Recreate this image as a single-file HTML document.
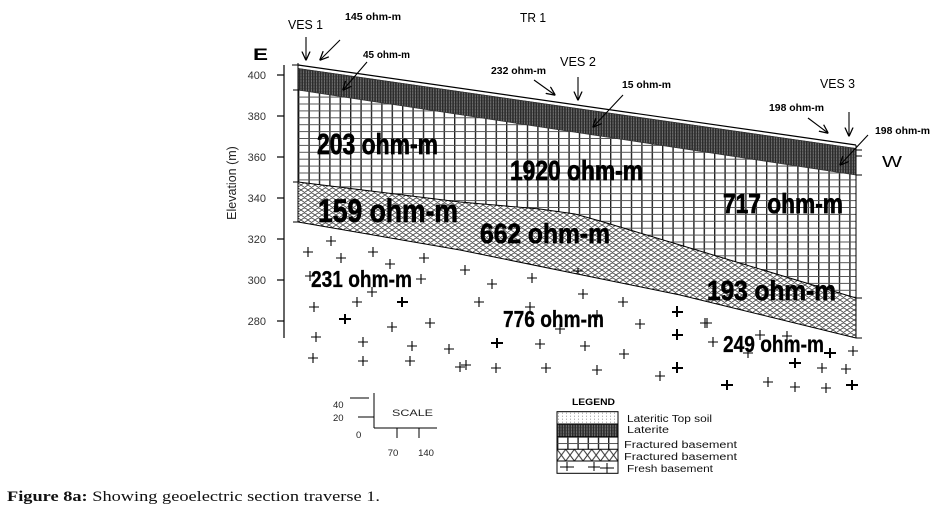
<!DOCTYPE html>
<html><head><meta charset="utf-8"><style>
html,body{margin:0;padding:0;background:#fff;}
svg{display:block;}
text{font-family:"Liberation Sans",Arial,sans-serif;}
</style></head><body>
<svg width="939" height="521" viewBox="0 0 939 521" xmlns="http://www.w3.org/2000/svg">
<defs>
<pattern id="grid" patternUnits="userSpaceOnUse" x="298" y="0" width="10.4" height="6.9">
<rect width="10.4" height="6.9" fill="#fff"/>
<line x1="0.7" y1="0" x2="0.7" y2="6.9" stroke="#222" stroke-width="1.4"/>
<line x1="0" y1="0.5" x2="10.4" y2="0.5" stroke="#555" stroke-width="1"/>
</pattern>
<pattern id="lat" patternUnits="userSpaceOnUse" x="0" y="0" width="2.6" height="3">
<rect width="2.6" height="3" fill="#2a2a2a"/>
<rect x="1.6" y="0" width="0.8" height="3" fill="#8a8a8a"/>
<rect x="1.6" y="1.5" width="0.8" height="0.6" fill="#333"/>
</pattern>
<pattern id="xh" patternUnits="userSpaceOnUse" x="0" y="0" width="7" height="5">
<rect width="7" height="5" fill="#fff"/>
<path d="M0,0 L7,5 M0,5 L7,0 M-1,4.3 L1,5.7 M6,-0.7 L8,0.7 M-1,0.7 L1,-0.7 M6,5.7 L8,4.3" stroke="#444" stroke-width="0.9" fill="none"/>
</pattern>
<pattern id="lgrid" patternUnits="userSpaceOnUse" x="557" y="436.7" width="10.2" height="6.3">
<rect width="10.2" height="6.3" fill="#fff"/>
<line x1="0.7" y1="0" x2="0.7" y2="6.3" stroke="#222" stroke-width="1.4"/>
<line x1="0" y1="0.5" x2="10.2" y2="0.5" stroke="#555" stroke-width="1"/>
</pattern>
<pattern id="lxh" patternUnits="userSpaceOnUse" x="557" y="449.3" width="8.7" height="11.7">
<rect width="8.7" height="11.7" fill="#fff"/>
<path d="M0,0 L8.7,11.7 M0,11.7 L8.7,0" stroke="#333" stroke-width="1" fill="none"/>
</pattern>
<pattern id="dots" patternUnits="userSpaceOnUse" x="557" y="411.7" width="4" height="3">
<rect width="4" height="3" fill="#fff"/>
<rect x="1" y="1" width="1" height="1" fill="#999"/>
</pattern>
<marker id="ah" viewBox="0 0 10 10" refX="9.5" refY="5" markerWidth="9" markerHeight="9" markerUnits="userSpaceOnUse" orient="auto">
<path d="M0,0.5 L10,5 L0,9.5" fill="none" stroke="#000" stroke-width="1.4"/>
</marker>
</defs>

<!-- Axis -->
<line x1="284" y1="65" x2="284" y2="338" stroke="#000" stroke-width="1.2"/>
<g stroke="#000" stroke-width="1.2">
<line x1="277" y1="75" x2="284" y2="75"/>
<line x1="277" y1="116" x2="284" y2="116"/>
<line x1="277" y1="157" x2="284" y2="157"/>
<line x1="277" y1="198" x2="284" y2="198"/>
<line x1="277" y1="239" x2="284" y2="239"/>
<line x1="277" y1="280" x2="284" y2="280"/>
<line x1="277" y1="321" x2="284" y2="321"/>
</g>
<g font-size="11" fill="#333" text-anchor="end">
<text x="266" y="79">400</text>
<text x="266" y="120">380</text>
<text x="266" y="161">360</text>
<text x="266" y="202">340</text>
<text x="266" y="243">320</text>
<text x="266" y="284">300</text>
<text x="266" y="325">280</text>
</g>
<text x="0" y="0" font-size="12.5" fill="#222" text-anchor="middle" transform="translate(236,183) rotate(-90)">Elevation (m)</text>
<text x="253" y="60" font-size="17" font-weight="bold" textLength="15" lengthAdjust="spacingAndGlyphs">E</text>

<!-- Layers -->
<polygon points="298,90 856,175 856,298 680,245 600,221 575,214 540,209 460,202 298,182" fill="url(#grid)"/>
<polygon points="298,182 460,202 540,209 575,214 600,221 680,245 856,298 856,338 680,295 460,250 298,222" fill="url(#xh)"/>
<polygon points="298,68 856,148 856,175 298,90" fill="url(#lat)"/>
<polygon points="298,65 856,145 856,148 298,68" fill="#fff"/>
<g fill="none" stroke="#000" stroke-width="1">
<line x1="298" y1="65" x2="856" y2="145" stroke-width="1.2"/>
<line x1="298" y1="68.5" x2="856" y2="148.5" stroke="#333" stroke-width="0.8"/>
<line x1="298" y1="90" x2="856" y2="175" stroke="#333" stroke-width="0.8"/>
<polyline points="298,182 460,202 540,209 575,214 600,221 680,245 856,298"/>
<polyline points="298,222 460,250 680,295 856,338"/>
<line x1="298" y1="63" x2="298" y2="222"/>
<line x1="856" y1="145" x2="856" y2="338"/>
<line x1="292" y1="65" x2="300" y2="65"/>
<line x1="293" y1="90" x2="299" y2="90"/>
<line x1="293" y1="182" x2="299" y2="182"/>
<line x1="293" y1="222" x2="300" y2="222"/>
<line x1="856" y1="150" x2="862" y2="150"/>
<line x1="856" y1="156" x2="862" y2="156"/>
<line x1="856" y1="175" x2="862" y2="175"/>
<line x1="856" y1="298" x2="862" y2="298"/>
<line x1="856" y1="338" x2="862" y2="338"/>
</g>

<!-- Crosses -->
<path fill="none" stroke="#000" stroke-width="1.1" d="
M303,252h10M308,247v10 M326,241h10M331,236v10 M336,258h10M341,253v10 M368,252h10M373,247v10
M385,264h10M390,259v10 M419,258h10M424,253v10 M305,276h10M310,271v10 M416,279h10M421,274v10
M367,292h10M372,287v10 M352,302h10M357,297v10 M309,307h10M314,302v10 M387,327h10M392,322v10
M425,323h10M430,318v10 M311,337h10M316,332v10 M358,342h10M363,337v10 M407,346h10M412,341v10
M444,349h10M449,344v10 M308,358h10M313,353v10 M358,361h10M363,356v10 M405,361h10M410,356v10
M455,367h10M460,362v10
M460,270h10M465,265v10 M487,284h10M492,279v10 M527,278h10M532,273v10 M474,302h10M479,297v10
M525,307h10M530,302v10 M578,294h10M583,289v10 M618,302h10M623,297v10 M555,329h10M560,324v10
M592,315h10M597,310v10 M635,324h10M640,319v10 M700,323h10M705,318v10 M535,344h10M540,339v10
M580,346h10M585,341v10 M619,354h10M624,349v10 M461,365h10M466,360v10 M491,368h10M496,363v10
M541,368h10M546,363v10 M592,370h10M597,365v10 M655,376h10M660,371v10 M573,271h10M578,268v5
M702,323h10M707,318v10 M708,342h10M713,337v10 M755,335h10M760,330v10 M743,353h10M748,348v10
M782,336h10M787,331v10 M848,351h10M853,346v10 M817,368h10M822,363v10 M841,369h10M846,364v10
M763,382h10M768,377v10 M790,387h10M795,382v10 M821,388h10M826,383v10
"/>
<path fill="none" stroke="#000" stroke-width="2" d="
M397,302h11M402,297v10 M339,319h12M345,314v10
M672,312h11M677,306v11 M672,335h11M677,329v11 M491,343h12M497,338v10 M672,368h11M677,362v11
M824,353h12M830,348v10 M789,363h12M795,358v10 M721,385h12M727,380v10 M846,385h12M852,380v10
"/>

<!-- Big labels -->
<g font-weight="bold" fill="#000" stroke="#000" stroke-width="0.7">
<text x="317" y="154" font-size="29" textLength="121" lengthAdjust="spacingAndGlyphs">203 ohm-m</text>
<text x="510" y="180" font-size="28" textLength="133" lengthAdjust="spacingAndGlyphs">1920 ohm-m</text>
<text x="723" y="213" font-size="28" textLength="120" lengthAdjust="spacingAndGlyphs">717 ohm-m</text>
<text x="318" y="222" font-size="32" textLength="140" lengthAdjust="spacingAndGlyphs">159 ohm-m</text>
<text x="480" y="243" font-size="28" textLength="130" lengthAdjust="spacingAndGlyphs">662 ohm-m</text>
<text x="707" y="300" font-size="28" textLength="129" lengthAdjust="spacingAndGlyphs">193 ohm-m</text>
<text x="311" y="287" font-size="23" stroke-width="0.3" textLength="101" lengthAdjust="spacingAndGlyphs">231 ohm-m</text>
<text x="503" y="327" font-size="23" stroke-width="0.3" textLength="101" lengthAdjust="spacingAndGlyphs">776 ohm-m</text>
<text x="723" y="352" font-size="23" stroke-width="0.3" textLength="101" lengthAdjust="spacingAndGlyphs">249 ohm-m</text>
</g>

<!-- Small labels -->
<g font-size="10.5" font-weight="bold" fill="#000">
<text x="345" y="20" textLength="56" lengthAdjust="spacingAndGlyphs">145 ohm-m</text>
<text x="363" y="58" textLength="47" lengthAdjust="spacingAndGlyphs">45 ohm-m</text>
<text x="491" y="74" textLength="55" lengthAdjust="spacingAndGlyphs">232 ohm-m</text>
<text x="622" y="88" textLength="49" lengthAdjust="spacingAndGlyphs">15 ohm-m</text>
<text x="769" y="111" textLength="55" lengthAdjust="spacingAndGlyphs">198 ohm-m</text>
<text x="875" y="134" textLength="55" lengthAdjust="spacingAndGlyphs">198 ohm-m</text>
</g>
<g font-size="13" fill="#000">
<text x="288" y="29" textLength="35" lengthAdjust="spacingAndGlyphs">VES 1</text>
<text x="520" y="22" textLength="26" lengthAdjust="spacingAndGlyphs">TR 1</text>
<text x="560" y="66" textLength="36" lengthAdjust="spacingAndGlyphs">VES 2</text>
<text x="820" y="88" textLength="35" lengthAdjust="spacingAndGlyphs">VES 3</text>
<text x="882" y="167" font-size="16" textLength="20" lengthAdjust="spacingAndGlyphs">W</text>
</g>

<!-- Arrows -->
<g stroke="#000" stroke-width="1.1" fill="none" marker-end="url(#ah)">
<line x1="306" y1="37" x2="306" y2="60"/>
<line x1="340" y1="40" x2="320" y2="60"/>
<line x1="367" y1="62" x2="343" y2="90"/>
<line x1="534" y1="80" x2="555" y2="95"/>
<line x1="578" y1="77" x2="578" y2="100"/>
<line x1="623" y1="95" x2="593" y2="127"/>
<line x1="808" y1="118" x2="828" y2="133"/>
<line x1="849" y1="112" x2="849" y2="136"/>
<line x1="868" y1="135" x2="840" y2="165"/>
</g>

<!-- Scale -->
<g stroke="#000" stroke-width="1" fill="none">
<line x1="374" y1="393" x2="374" y2="428"/>
<line x1="374" y1="428" x2="437" y2="428"/>
<line x1="397" y1="428" x2="397" y2="438"/>
<line x1="419" y1="428" x2="419" y2="438"/>
<line x1="350" y1="398" x2="369" y2="398"/>
<line x1="358" y1="417" x2="374" y2="417"/>
</g>
<g font-size="9.5" fill="#222">
<text x="333" y="408">40</text>
<text x="333" y="421">20</text>
<text x="356" y="438">0</text>
<text x="393" y="456" text-anchor="middle">70</text>
<text x="426" y="456" text-anchor="middle">140</text>
<text x="392" y="416" textLength="41" lengthAdjust="spacingAndGlyphs">SCALE</text>
</g>

<!-- Legend -->
<text x="572" y="405" font-size="9.5" font-weight="bold" fill="#000" textLength="43" lengthAdjust="spacingAndGlyphs">LEGEND</text>
<rect x="557" y="411.7" width="61" height="12.3" fill="url(#dots)"/>
<rect x="557" y="424" width="61" height="12.7" fill="url(#lat)"/>
<rect x="557" y="436.7" width="61" height="12.6" fill="url(#lgrid)"/>
<rect x="557" y="449.3" width="61" height="11.7" fill="url(#lxh)"/>
<rect x="557" y="461" width="61" height="12.3" fill="#fff"/>
<g stroke="#000" stroke-width="1" fill="none">
<rect x="557" y="411.7" width="61" height="61.6"/>
<line x1="557" y1="424" x2="618" y2="424"/>
<line x1="557" y1="436.7" x2="618" y2="436.7"/>
<line x1="557" y1="449.3" x2="618" y2="449.3"/>
<line x1="557" y1="461" x2="618" y2="461"/>
<path d="M560,467h14M567,462v9 M588,467h12M594,462v9 M600,468h14M607,463v10"/>
</g>
<g font-size="10" fill="#111">
<text x="627" y="422" textLength="85" lengthAdjust="spacingAndGlyphs">Lateritic Top soil</text>
<text x="627" y="433" textLength="42" lengthAdjust="spacingAndGlyphs">Laterite</text>
<text x="624" y="448" textLength="113" lengthAdjust="spacingAndGlyphs">Fractured basement</text>
<text x="624" y="460" textLength="113" lengthAdjust="spacingAndGlyphs">Fractured basement</text>
<text x="627" y="472" textLength="86" lengthAdjust="spacingAndGlyphs">Fresh basement</text>
</g>

<!-- Caption -->
<text x="7" y="501" font-size="15" fill="#111" textLength="373" lengthAdjust="spacingAndGlyphs" style="font-family:'Liberation Serif',serif"><tspan font-weight="bold">Figure 8a:</tspan> Showing geoelectric section traverse 1.</text>
</svg>
</body></html>
